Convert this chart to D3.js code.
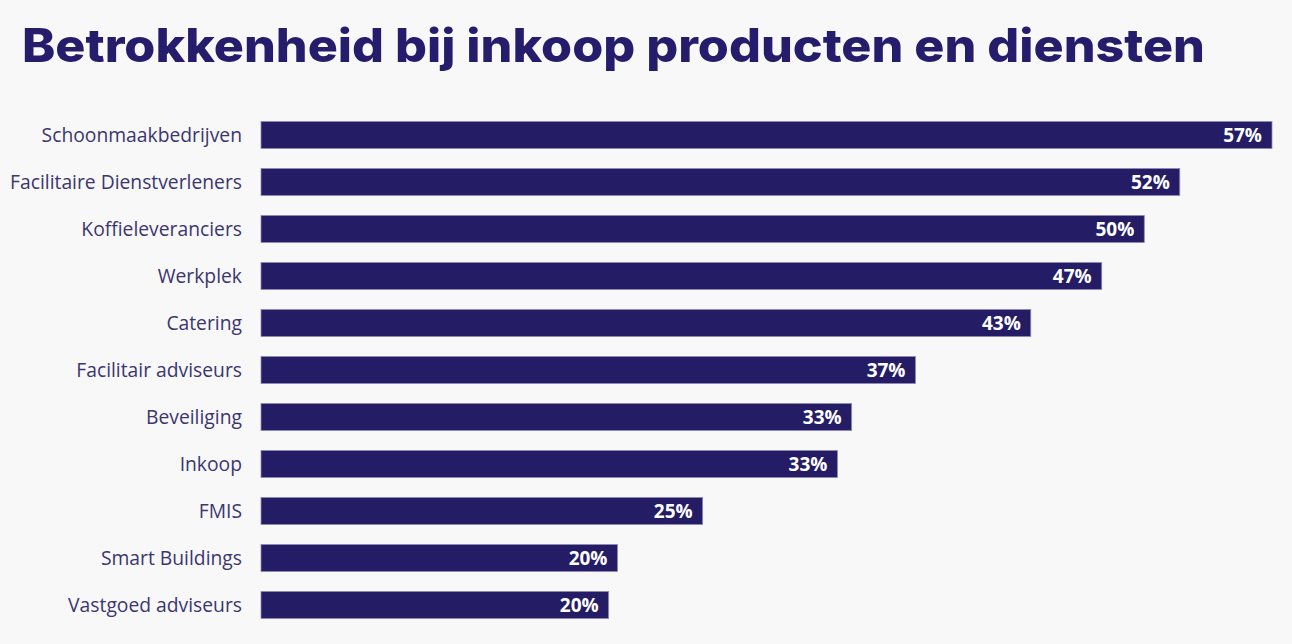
<!DOCTYPE html>
<html><head><meta charset="utf-8">
<script src="https://cdn.jsdelivr.net/npm/d3@7"></script>
<style>html,body{margin:0;padding:0;background:#f8f8f8;}svg{display:block;}</style>
</head><body>
<svg id="c" width="1292" height="644"></svg>
<script>
const titleText = "Betrokkenheid bij inkoop producten en diensten";
const categories = ["Schoonmaakbedrijven","Facilitaire Dienstverleners","Koffieleveranciers","Werkplek","Catering","Facilitair adviseurs","Beveiliging","Inkoop","FMIS","Smart Buildings","Vastgoed adviseurs"];
const values = [57.0, 51.8, 49.8, 47.4, 43.4, 36.9, 33.3, 32.5, 24.9, 20.1, 19.6];
const labels = ["57%","52%","50%","47%","43%","37%","33%","33%","25%","20%","20%"];

const svg = d3.select("#c");
svg.append("rect").attr("width",1292).attr("height",644).attr("fill","#f8f8f8");

svg.append("text").attr("x",22).attr("y",62)
  .attr("font-family","Inter, 'Noto Sans', sans-serif").attr("font-weight",800)
  .attr("font-size",46).attr("fill","#251d6b")
  .attr("textLength",1183).attr("lengthAdjust","spacingAndGlyphs")
  .text(titleText);

const x = d3.scaleLinear().domain([0,57]).range([261,1272]);
const y = d3.scaleBand().domain(categories).range([111.5,628.5]).paddingInner(0.426).paddingOuter(0.213);

const data = categories.map((c,i)=>({c, v: values[i], l: labels[i]}));

svg.selectAll("rect.bar").data(data).join("rect").attr("class","bar")
  .attr("x",x(0)).attr("y",d=>y(d.c)).attr("width",d=>x(d.v)-x(0)).attr("height",y.bandwidth())
  .attr("fill","#241d66").attr("stroke","#8f8bb4").attr("stroke-width",0.8);

svg.selectAll("text.cat").data(data).join("text").attr("class","cat")
  .attr("x",242).attr("y",d=>y(d.c)+y.bandwidth()/2).attr("dy","0.35em")
  .attr("text-anchor","end").attr("font-family","'Open Sans', sans-serif").attr("font-size",19.3)
  .attr("fill","#3b3670").text(d=>d.c);

svg.selectAll("text.val").data(data).join("text").attr("class","val")
  .attr("x",d=>x(d.v)-10).attr("y",d=>y(d.c)+y.bandwidth()/2).attr("dy","0.36em")
  .attr("text-anchor","end").attr("font-family","'Open Sans', sans-serif").attr("font-weight",700).attr("font-size",19)
  .attr("fill","#ffffff").text(d=>d.l);
</script>
</body></html>
